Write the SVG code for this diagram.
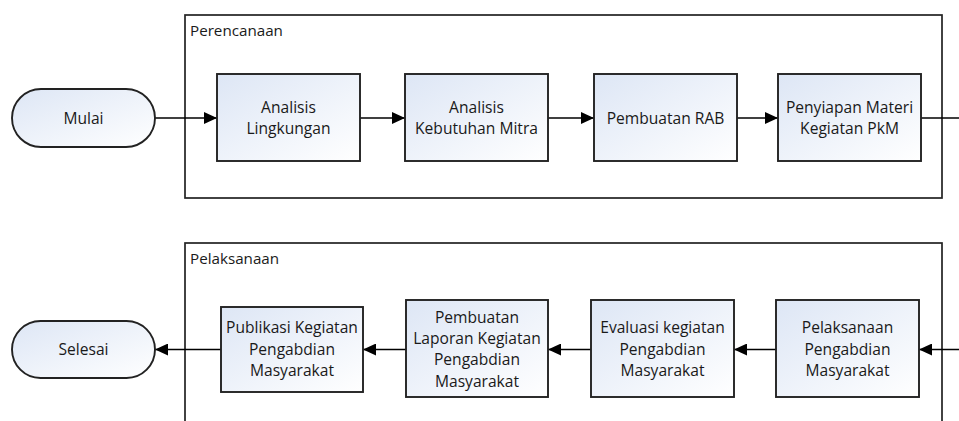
<svg xmlns="http://www.w3.org/2000/svg" width="959" height="421" viewBox="0 0 959 421">
  <defs>
    <linearGradient id="fill" x1="0" y1="0" x2="1" y2="1">
      <stop offset="0" stop-color="#dde6f5"/>
      <stop offset="1" stop-color="#ffffff"/>
    </linearGradient>
    <marker id="arrow" markerUnits="userSpaceOnUse" markerWidth="13" markerHeight="12" refX="13" refY="6" orient="auto">
      <path d="M0,0 L13,6 L0,12 Z" fill="#000"/>
    </marker>
  </defs>
  <style>
    .container { fill: #ffffff; stroke: #222222; stroke-width: 1.7; }
    .node { fill: url(#fill); stroke: #222222; stroke-width: 1.9; }
    .label { font-family: "Open Sans", "Liberation Sans", sans-serif; font-size: 15.6px; fill: #1a1a1a; text-anchor: middle; }
    .title { font-family: "Open Sans", "Liberation Sans", sans-serif; font-size: 15.2px; fill: #1a1a1a; }
    .conn { fill: none; stroke: #000; stroke-width: 1.7; }
  </style>

  <rect width="959" height="421" fill="#ffffff"/>

  <g id="perencanaan">
    <rect class="container" x="185" y="15" width="757" height="183"/>
    <text class="title" x="190" y="36">Perencanaan</text>
  </g>
  <g id="pelaksanaan-group">
    <rect class="container" x="185" y="243" width="757" height="200"/>
    <text class="title" x="190" y="264">Pelaksanaan</text>
  </g>

  <g id="connectors">
    <line class="conn" x1="155" y1="118" x2="217" y2="118" marker-end="url(#arrow)"/>
    <line class="conn" x1="360" y1="118" x2="405" y2="118" marker-end="url(#arrow)"/>
    <line class="conn" x1="548" y1="118" x2="594" y2="118" marker-end="url(#arrow)"/>
    <line class="conn" x1="737" y1="118" x2="778" y2="118" marker-end="url(#arrow)"/>
    <line class="conn" x1="921" y1="118" x2="960" y2="118"/>
    <line class="conn" x1="960" y1="349.5" x2="919" y2="349.5" marker-end="url(#arrow)"/>
    <line class="conn" x1="776" y1="349.5" x2="734" y2="349.5" marker-end="url(#arrow)"/>
    <line class="conn" x1="591" y1="349.5" x2="548" y2="349.5" marker-end="url(#arrow)"/>
    <line class="conn" x1="406" y1="349.5" x2="363" y2="349.5" marker-end="url(#arrow)"/>
    <line class="conn" x1="221" y1="349.5" x2="155" y2="349.5" marker-end="url(#arrow)"/>
  </g>

  <g id="mulai">
    <rect class="node" x="12" y="89" width="143" height="58" rx="29" ry="29"/>
    <text class="label" x="83.5" y="123.5">Mulai</text>
  </g>
  <g id="analisis-lingkungan">
    <rect class="node" x="217" y="74" width="143" height="87"/>
    <text class="label" x="288.5" y="112.8">Analisis</text>
    <text class="label" x="288.5" y="134.1">Lingkungan</text>
  </g>
  <g id="analisis-kebutuhan">
    <rect class="node" x="405" y="74" width="143" height="87"/>
    <text class="label" x="476.5" y="112.8">Analisis</text>
    <text class="label" x="476.5" y="134.1">Kebutuhan Mitra</text>
  </g>
  <g id="pembuatan-rab">
    <rect class="node" x="594" y="74" width="143" height="87"/>
    <text class="label" x="665.5" y="123.5">Pembuatan RAB</text>
  </g>
  <g id="penyiapan-materi">
    <rect class="node" x="778" y="74" width="143" height="87"/>
    <text class="label" x="849.5" y="112.8">Penyiapan Materi</text>
    <text class="label" x="849.5" y="134.1">Kegiatan PkM</text>
  </g>

  <g id="pelaksanaan-pengabdian">
    <rect class="node" x="776" y="300" width="143" height="97"/>
    <text class="label" x="847.5" y="333.3">Pelaksanaan</text>
    <text class="label" x="847.5" y="354.6">Pengabdian</text>
    <text class="label" x="847.5" y="375.9">Masyarakat</text>
  </g>
  <g id="evaluasi">
    <rect class="node" x="591" y="300" width="143" height="97"/>
    <text class="label" x="662.5" y="333.3">Evaluasi kegiatan</text>
    <text class="label" x="662.5" y="354.6">Pengabdian</text>
    <text class="label" x="662.5" y="375.9">Masyarakat</text>
  </g>
  <g id="pembuatan-laporan">
    <rect class="node" x="406" y="300" width="142" height="97"/>
    <text class="label" x="477" y="322.6">Pembuatan</text>
    <text class="label" x="477" y="343.9">Laporan Kegiatan</text>
    <text class="label" x="477" y="365.2">Pengabdian</text>
    <text class="label" x="477" y="386.5">Masyarakat</text>
  </g>
  <g id="publikasi">
    <rect class="node" x="221" y="307" width="142" height="85"/>
    <text class="label" x="292" y="333.3">Publikasi Kegiatan</text>
    <text class="label" x="292" y="354.6">Pengabdian</text>
    <text class="label" x="292" y="375.9">Masyarakat</text>
  </g>
  <g id="selesai">
    <rect class="node" x="12" y="321" width="143" height="57" rx="28.5" ry="28.5"/>
    <text class="label" x="83.5" y="355">Selesai</text>
  </g>
</svg>
